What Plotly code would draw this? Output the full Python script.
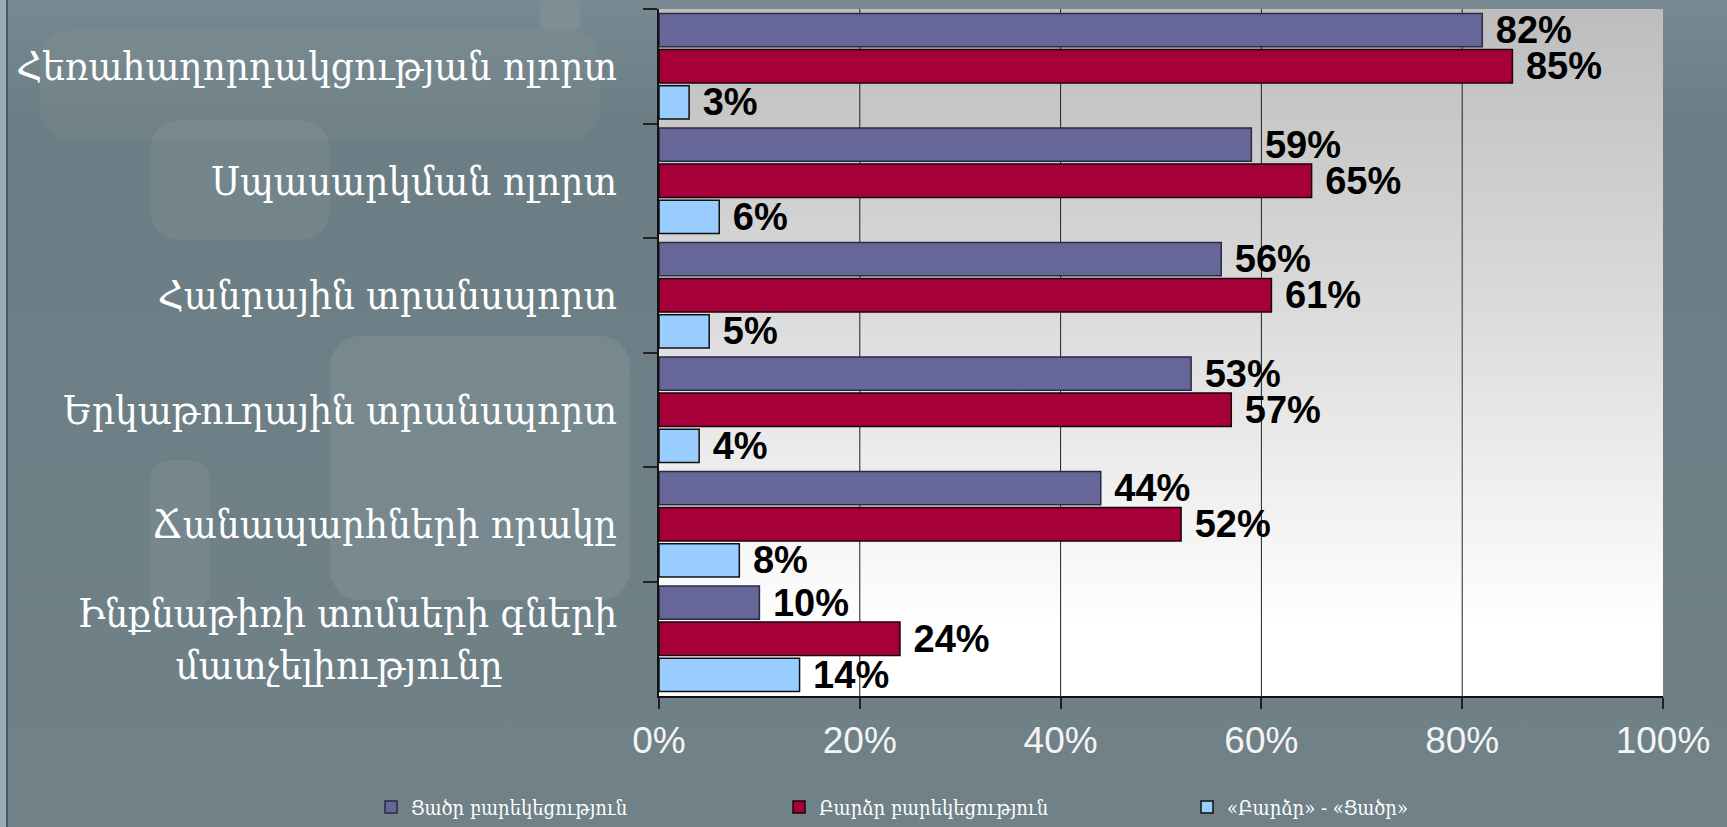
import base64
import plotly.graph_objects as go

NB = "\u00a0"

# ---------------- data ----------------
categories = [
    "Հեռահաղորդակցության ոլորտ",
    "Սպասարկման ոլորտ",
    "Հանրային տրանսպորտ",
    "Երկաթուղային տրանսպորտ",
    "Ճանապարհների որակը",
    "Ինքնաթիռի տոմսերի գների<br>մատչելիությունը" + NB * 10,
]
low_welfare = [82, 59, 56, 53, 44, 10]
high_welfare = [85, 65, 61, 57, 52, 24]
difference = [3, 6, 5, 4, 8, 14]
series_names = ["Ցածր բարեկեցություն", "Բարձր բարեկեցություն", "«Բարձր» - «Ցածր»"]
x_ticks = [0, 20, 40, 60, 80, 100]
x_tick_text = [f"{v}%" for v in x_ticks]

# ---------------- styling ----------------
W, H = 1727, 827
ML, MR, MT, MB = 659, 64, 9, 131
PW, PH = W - ML - MR, H - MT - MB

colors = ["#666699", "#a6003a", "#99ccff"]
edge = ["#2a2a40", "#1a0008", "#111111"]

label_font = dict(family="Liberation Sans, Arial, sans-serif", size=38, color="black", weight=700)


def svg_uri(svg):
    return "data:image/svg+xml;base64," + base64.b64encode(svg.encode("utf-8")).decode()


bg_svg = f"""<svg xmlns='http://www.w3.org/2000/svg' width='{W}' height='{H}' viewBox='0 0 {W} {H}'>
<defs><linearGradient id='g' x1='0' y1='0' x2='0' y2='1'>
<stop offset='0' stop-color='#788a91'/><stop offset='0.15' stop-color='#6c7e85'/>
<stop offset='1' stop-color='#708288'/></linearGradient></defs>
<rect width='{W}' height='{H}' fill='url(#g)'/>
<rect x='40' y='30' width='560' height='110' rx='30' fill='#ffffff' opacity='0.03'/>
<rect x='150' y='120' width='180' height='120' rx='30' fill='#ffffff' opacity='0.05'/>
<rect x='150' y='460' width='60' height='150' rx='20' fill='#ffffff' opacity='0.05'/>
<rect x='330' y='336' width='300' height='264' rx='30' fill='#ffffff' opacity='0.07'/>
<rect x='540' y='0' width='40' height='30' rx='6' fill='#ffffff' opacity='0.05'/>
<rect x='0' y='0' width='6' height='{H}' fill='#98aeb6'/>
<rect x='6' y='0' width='2' height='{H}' fill='#4a5a60'/>
</svg>"""

plot_svg = """<svg xmlns='http://www.w3.org/2000/svg' width='100' height='100' viewBox='0 0 100 100' preserveAspectRatio='none'>
<defs><linearGradient id='p' x1='0' y1='0' x2='0' y2='1'>
<stop offset='0' stop-color='#bdbdbd'/><stop offset='0.45' stop-color='#dcdcdc'/>
<stop offset='0.9' stop-color='#ffffff'/><stop offset='1' stop-color='#ffffff'/></linearGradient></defs>
<rect width='100' height='100' fill='url(#p)'/>
</svg>"""

fig = go.Figure()
for name, vals, c, e in zip(series_names, [low_welfare, high_welfare, difference], colors, edge):
    fig.add_trace(go.Bar(
        y=categories, x=vals, name=name, orientation="h",
        marker=dict(color=c, line=dict(color=e, width=1.5)),
        text=[f"{v}%" for v in vals],
        texttemplate=NB + "%{text}", textposition="outside",
        textfont=label_font, constraintext="none", cliponaxis=False,
    ))

# vertical gridlines at the inner ticks (no line on the right plot edge)
for v in x_ticks[1:-1]:
    fig.add_shape(type="line", xref="x", yref="y domain", x0=v, x1=v, y0=0, y1=1,
                  line=dict(color="#222222", width=1), layer="below")

fig.update_layout(
    width=W, height=H,
    margin=dict(l=ML, r=MR, t=MT, b=MB, pad=0, autoexpand=False),
    paper_bgcolor="#6e8087",
    plot_bgcolor="rgba(0,0,0,0)",
    barmode="group", bargap=0.053, bargroupgap=0.075,
    showlegend=True,
    legend=dict(
        orientation="h", xref="paper", yref="paper",
        x=(371 - ML) / PW, y=-(807 - (H - MB)) / PH, xanchor="left", yanchor="middle",
        font=dict(family="DejaVu Serif Condensed, DejaVu Serif, serif", size=20, color="white"),
        bgcolor="rgba(0,0,0,0)", entrywidth=363, traceorder="normal",
    ),
    xaxis=dict(
        range=[0, 100], tickvals=x_ticks, ticktext=x_tick_text,
        showgrid=False,
        ticks="outside", ticklen=11, tickcolor="#222222", tickwidth=1.5,
        showline=True, linecolor="#111111", linewidth=2,
        zeroline=False, automargin=False,
        tickfont=dict(family="Liberation Sans, Arial, sans-serif", size=37, color="#f4f4f4"),
        fixedrange=True,
    ),
    yaxis=dict(
        type="category", autorange="reversed", tickson="boundaries",
        ticks="outside", ticklen=14, tickcolor="#222222", tickwidth=1.5,
        showline=True, linecolor="#111111", linewidth=2,
        showgrid=False, zeroline=False, automargin=False,
        tickfont=dict(family="DejaVu Serif Condensed, DejaVu Serif, serif", size=40, color="white"),
        ticklabelstandoff=32,
        fixedrange=True,
    ),
    images=[
        dict(source=svg_uri(bg_svg), xref="paper", yref="paper",
             x=-ML / PW, y=1 + MT / PH, sizex=W / PW, sizey=H / PH,
             xanchor="left", yanchor="top", sizing="stretch", layer="below"),
        dict(source=svg_uri(plot_svg), xref="paper", yref="paper",
             x=0, y=1, sizex=1, sizey=1,
             xanchor="left", yanchor="top", sizing="stretch", layer="below"),
    ],
)

fig.write_html(
    "out.html",
    config={"displayModeBar": False},
    post_script="document.body.style.margin='0';document.body.style.overflow='hidden';",
)
